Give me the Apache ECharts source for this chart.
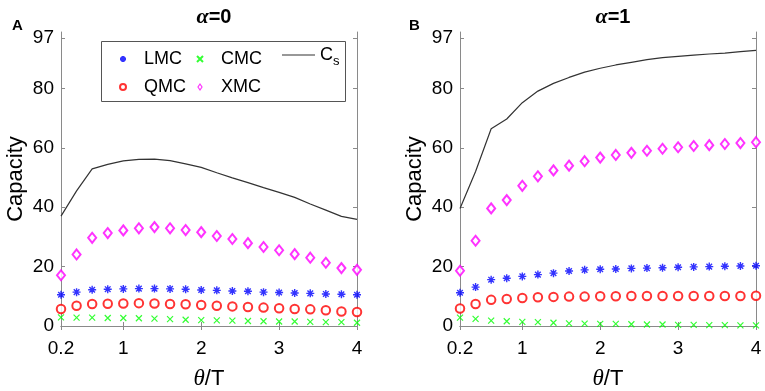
<!DOCTYPE html>
<html>
<head>
<meta charset="utf-8">
<script src="https://cdn.jsdelivr.net/npm/echarts@6/dist/echarts.min.js"></script>
<style>
  html, body { margin: 0; padding: 0; background: #fff; }
  #main { width: 765px; height: 391px; }
</style>
</head>
<body>
<div id="main"></div>
<script>
// theta/T sample points
var thetaT = [0.2, 0.4, 0.6, 0.8, 1.0, 1.2, 1.4, 1.6, 1.8, 2.0, 2.2, 2.4, 2.6, 2.8, 3.0, 3.2, 3.4, 3.6, 3.8, 4.0];
var xTicks = [0.2, 1, 2, 3, 4];
var yTicks = [0, 20, 40, 60, 80, 97];

// panel A, alpha = 0
var lmc0 = [10.5, 11.4, 12.2, 12.4, 12.5, 12.6, 12.6, 12.5, 12.4, 12.1, 12.0, 11.8, 11.7, 11.4, 11.3, 11.1, 11.0, 10.8, 10.7, 10.5];
var qmc0 = [5.7, 6.8, 7.4, 7.5, 7.6, 7.7, 7.6, 7.4, 7.3, 7.1, 6.8, 6.6, 6.4, 6.2, 6.0, 5.7, 5.6, 5.3, 4.9, 4.7];
var cmc0 = [2.9, 2.8, 2.8, 2.7, 2.7, 2.6, 2.5, 2.3, 2.1, 2.0, 1.9, 1.8, 1.7, 1.6, 1.5, 1.5, 1.4, 1.3, 1.3, 1.1];
var xmc0 = [17.1, 24.1, 29.7, 31.3, 32.2, 32.9, 33.3, 32.9, 32.3, 31.6, 30.3, 29.3, 27.9, 26.6, 25.5, 24.2, 23.0, 21.3, 19.5, 18.9];
var cs0 = [37.0, 45.5, 52.9, 54.4, 55.6, 56.1, 56.2, 55.7, 54.6, 53.4, 51.6, 49.9, 48.3, 46.6, 45.0, 43.3, 41.1, 39.0, 36.9, 35.9];

// panel B, alpha = 1
var lmc1 = [11.2, 13.1, 15.6, 16.1, 16.7, 17.3, 17.8, 18.5, 18.9, 19.1, 19.2, 19.4, 19.5, 19.6, 19.8, 19.9, 20.0, 20.1, 20.2, 20.3];
var qmc1 = [5.9, 7.4, 8.8, 9.1, 9.4, 9.7, 9.8, 9.9, 9.9, 10.0, 10.0, 10.1, 10.1, 10.1, 10.1, 10.1, 10.1, 10.1, 10.1, 10.2];
var cmc1 = [2.8, 2.4, 1.8, 1.6, 1.4, 1.3, 1.1, 0.9, 0.8, 0.7, 0.7, 0.6, 0.5, 0.5, 0.4, 0.4, 0.3, 0.3, 0.2, 0.2];
var xmc1 = [18.6, 28.7, 39.6, 42.4, 47.2, 50.4, 52.4, 54.0, 55.5, 56.7, 57.6, 58.3, 59.0, 59.7, 60.2, 60.6, 60.9, 61.3, 61.6, 61.9];
var cs1 = [39.6, 52.0, 66.4, 69.7, 75.2, 79.1, 81.7, 83.7, 85.5, 86.8, 87.9, 88.8, 89.7, 90.4, 90.8, 91.2, 91.6, 91.9, 92.4, 92.8];

var font = 'Liberation Sans, Arial, sans-serif';
var axisGray = '#8a8a8a';
var starPath = 'path://M5,0L5,10M0,5L10,5M1.5,1.5L8.5,8.5M8.5,1.5L1.5,8.5';
var crossPath = 'path://M0,0L10,10M10,0L0,10';
var diamondPath = 'path://M5,0L9,6L5,12L1,6Z';

function zip(xs, ys) {
  return xs.map(function (x, i) { return [x, ys[i]]; });
}

function xAxes(gi) {
  return [{
    type: 'value', gridIndex: gi, min: 0.2, max: 4, position: 'bottom',
    name: '{t|θ}/T', nameLocation: 'middle', nameGap: 41,
    nameTextStyle: {
      fontSize: 22, color: '#000', fontFamily: font,
      rich: { t: { fontSize: 23, fontStyle: 'italic', fontFamily: 'Liberation Serif, serif', color: '#000' } }
    },
    axisLine: { show: true, lineStyle: { color: axisGray } },
    axisTick: { show: true, inside: true, length: 4, customValues: xTicks, lineStyle: { color: axisGray } },
    axisLabel: { show: true, customValues: xTicks, color: '#000', fontSize: 19, fontFamily: font, margin: 13 },
    splitLine: { show: false }
  }, {
    type: 'value', gridIndex: gi, min: 0.2, max: 4, position: 'top',
    axisLine: { show: true, lineStyle: { color: axisGray } },
    axisTick: { show: true, inside: true, length: 4, customValues: xTicks, lineStyle: { color: axisGray } },
    axisLabel: { show: false },
    splitLine: { show: false }
  }];
}

function yAxes(gi) {
  return [{
    type: 'value', gridIndex: gi, min: 0, max: 99, position: 'left',
    name: 'Capacity', nameLocation: 'middle', nameGap: 34,
    nameTextStyle: { fontSize: 22, color: '#000', fontFamily: font },
    axisLine: { show: true, lineStyle: { color: axisGray } },
    axisTick: { show: true, inside: true, length: 4, customValues: yTicks, lineStyle: { color: axisGray } },
    axisLabel: { show: true, customValues: yTicks, color: '#000', fontSize: 19, fontFamily: font, margin: 7 },
    splitLine: { show: false }
  }, {
    type: 'value', gridIndex: gi, min: 0, max: 99, position: 'right',
    axisLine: { show: true, lineStyle: { color: axisGray } },
    axisTick: { show: true, inside: true, length: 4, customValues: yTicks, lineStyle: { color: axisGray } },
    axisLabel: { show: false },
    splitLine: { show: false }
  }];
}

function panelSeries(gi, lmc, qmc, cmc, xmc, cs) {
  var ax = gi * 2;
  return [
    {
      name: 'Cs', type: 'line', xAxisIndex: ax, yAxisIndex: ax, data: zip(thetaT, cs),
      showSymbol: false, symbol: 'none', lineStyle: { color: '#333', width: 1.2 },
      itemStyle: { color: '#333' }
    },
    {
      name: 'LMC', type: 'scatter', xAxisIndex: ax, yAxisIndex: ax, data: zip(thetaT, lmc), clip: false,
      symbol: starPath, symbolSize: 8,
      itemStyle: { color: '#0000ff', borderColor: '#0000ff', borderWidth: 1.4 }
    },
    {
      name: 'QMC', type: 'scatter', xAxisIndex: ax, yAxisIndex: ax, data: zip(thetaT, qmc), clip: false,
      symbol: 'emptyCircle', symbolSize: 8.5,
      itemStyle: { color: '#ff0000', borderColor: '#ff0000', borderWidth: 1.2 }
    },
    {
      name: 'CMC', type: 'scatter', xAxisIndex: ax, yAxisIndex: ax, data: zip(thetaT, cmc), clip: false,
      symbol: crossPath, symbolSize: 6,
      itemStyle: { color: '#00ff00', borderColor: '#00ff00', borderWidth: 1.2 }
    },
    {
      name: 'XMC', type: 'scatter', xAxisIndex: ax, yAxisIndex: ax, data: zip(thetaT, xmc), clip: false,
      symbol: 'emptyDiamond', symbolSize: [8, 10],
      itemStyle: { color: '#ff00ff', borderColor: '#ff00ff', borderWidth: 1.2 }
    }
  ];
}

var legendText = { color: '#000', fontSize: 18, fontFamily: font, lineHeight: 18 };

var chart = echarts.init(document.getElementById('main'), null, { renderer: 'canvas' });
var option = {
  backgroundColor: '#fff',
  animation: false,
  title: [
    {
      text: '{a|α}{b|=0}', left: 209, top: 1, textAlign: 'center',
      textStyle: { rich: {
        a: { fontSize: 22, fontStyle: 'italic', fontFamily: 'Liberation Serif, serif', color: '#000' },
        b: { fontSize: 20, fontWeight: 'bold', fontFamily: font, color: '#000' }
      } }
    },
    {
      text: '{a|α}{b|=1}', left: 608, top: 1, textAlign: 'center',
      textStyle: { rich: {
        a: { fontSize: 22, fontStyle: 'italic', fontFamily: 'Liberation Serif, serif', color: '#000' },
        b: { fontSize: 20, fontWeight: 'bold', fontFamily: font, color: '#000' }
      } }
    },
    { text: 'A', left: 7, top: 13, textStyle: { fontSize: 15, fontWeight: 'bold', fontFamily: font, color: '#000' } },
    { text: 'B', left: 404, top: 13, textStyle: { fontSize: 15, fontWeight: 'bold', fontFamily: font, color: '#000' } }
  ],
  grid: [
    { left: 61, top: 32, width: 296, height: 294, containLabel: false, outerBoundsMode: 'none' },
    { left: 460, top: 32, width: 296, height: 294, containLabel: false, outerBoundsMode: 'none' }
  ],
  xAxis: xAxes(0).concat(xAxes(1)),
  yAxis: yAxes(0).concat(yAxes(1)),
  graphic: [{
    type: 'rect', left: 101, top: 41, z: 10,
    shape: { width: 244, height: 60 },
    style: { fill: '#fff', stroke: '#555', lineWidth: 1 }
  }],
  legend: [
    {
      data: ['LMC', 'QMC'], orient: 'vertical', left: 119, top: 50, padding: 0,
      itemWidth: 32, itemHeight: 6, itemGap: 10, z: 20, selectedMode: false, textStyle: legendText
    },
    {
      data: ['CMC', {
        name: 'XMC', icon: diamondPath,
        itemStyle: { color: '#fff', borderColor: '#ff00ff', borderWidth: 1.2 }
      }],
      orient: 'vertical', left: 196, top: 50, padding: 0,
      itemWidth: 32, itemHeight: 6, itemGap: 10, z: 20, selectedMode: false, textStyle: legendText
    },
    {
      data: [{ name: 'Cs', icon: 'rect', itemStyle: { color: '#333', borderWidth: 0 } }],
      orient: 'vertical', left: 282, top: 46, padding: 0,
      itemWidth: 33, itemHeight: 1, z: 20, selectedMode: false,
      formatter: function () { return '{c|C}{s|s}'; },
      textStyle: {
        color: '#000', fontFamily: font,
        rich: {
          c: { fontSize: 18, lineHeight: 26, fontFamily: font, color: '#000' },
          s: { fontSize: 13, lineHeight: 13, verticalAlign: 'bottom', fontFamily: font, color: '#000' }
        }
      }
    }
  ],
  series: panelSeries(0, lmc0, qmc0, cmc0, xmc0, cs0).concat(panelSeries(1, lmc1, qmc1, cmc1, xmc1, cs1))
};
chart.setOption(option);
</script>
</body>
</html>
